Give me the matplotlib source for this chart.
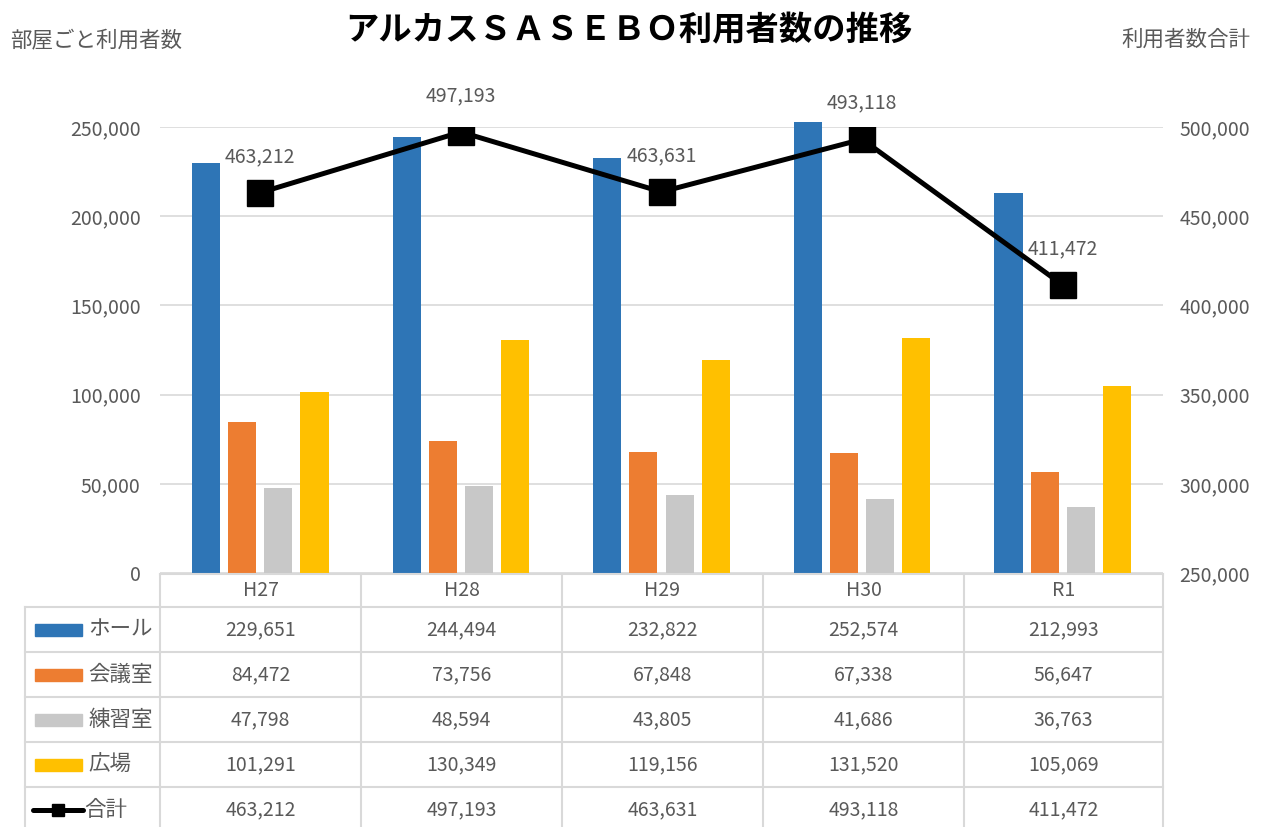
import matplotlib
matplotlib.use("Agg")
import matplotlib.pyplot as plt
from matplotlib.patches import Rectangle

plt.rcParams['font.family'] = ['Noto Sans CJK JP', 'DejaVu Sans']

categories = ["H27", "H28", "H29", "H30", "R1"]
series_names = ["ホール", "会議室", "練習室", "広場"]
hall = [229651, 244494, 232822, 252574, 212993]
meeting = [84472, 73756, 67848, 67338, 56647]
practice = [47798, 48594, 43805, 41686, 36763]
plaza = [101291, 130349, 119156, 131520, 105069]
total = [463212, 497193, 463631, 493118, 411472]
total_name = "合計"

title = "アルカスＳＡＳＥＢＯ利用者数の推移"
left_label = "部屋ごと利用者数"
right_label = "利用者数合計"

colors = ["#2E75B6", "#ED7D31", "#C8C8C8", "#FFC000"]
text_color = "#595959"
grid_color = "#D9D9D9"
NUM_FS = 14
JP_FS = 15.5

W, H = 1263, 827
fig = plt.figure(figsize=(W / 100, H / 100), dpi=100)

def px_rect(x0, y0, x1, y1):
    return [x0 / W, 1 - y1 / H, (x1 - x0) / W, (y1 - y0) / H]

ax = fig.add_axes(px_rect(160, 127, 1163, 573))
ax2 = ax.twinx()

series = [hall, meeting, practice, plaza]
offsets = [-0.27, -0.09, 0.09, 0.27]
width = 0.14
xs = list(range(len(categories)))
for vals, off, c in zip(series, offsets, colors):
    bars = ax.bar([x + off for x in xs], vals, width=width, color=c, zorder=3)
    for b in bars:
        b.set_clip_on(False)

ax.set_xlim(-0.5, len(categories) - 0.5)
ax.set_ylim(0, 250000)
ax.set_yticks(range(0, 250001, 50000))
ax.set_yticklabels([f"{v:,}" for v in range(0, 250001, 50000)])
ax.set_xticks([])
ax.grid(axis='y', color=grid_color, lw=1.2, zorder=0)
ax.set_axisbelow(True)
for sp in ax.spines.values():
    sp.set_visible(False)
for sp in ax2.spines.values():
    sp.set_visible(False)
ax.tick_params(axis='y', length=0, pad=14, labelsize=NUM_FS, labelcolor=text_color)

ax2.plot(xs, total, color='black', lw=3.6, marker='s', markersize=19, zorder=5)
ax2.set_ylim(250000, 500000)
ax2.set_yticks(range(250000, 500001, 50000))
ax2.set_yticklabels([f"{v:,}" for v in range(250000, 500001, 50000)])
ax2.tick_params(axis='y', length=0, pad=12, labelsize=NUM_FS, labelcolor=text_color)
for x, v in zip(xs, total):
    ax2.annotate(f"{v:,}", (x, v), xytext=(0, 26), textcoords='offset points',
                 ha='center', va='center', fontsize=NUM_FS, color=text_color,
                 annotation_clip=False)

# Title and axis titles
fig.text(629 / W, 1 - 31 / H, title, ha='center', va='center', fontsize=24,
         fontweight='bold', color='black')
fig.text(10 / W, 1 - 40 / H, left_label, ha='left', va='center', fontsize=JP_FS,
         color=text_color)
fig.text(1250 / W, 1 - 40 / H, right_label, ha='right', va='center', fontsize=JP_FS,
         color=text_color)

# Data table
tx = fig.add_axes(px_rect(0, 573, 1263, 827))
tx.set_xlim(0, W)
tx.set_ylim(254, 0)
tx.axis('off')
col_edges = [160, 361, 562, 763, 964, 1163]
row_edges = [0, 34, 79, 124, 169, 214, 259]
lc = "#D9D9D9"
tx.plot([160, 1163], [0.5, 0.5], color=lc, lw=1.5, clip_on=False)
for yv in row_edges[1:-1]:
    tx.plot([25, 1163], [yv, yv], color=lc, lw=1.5)
for xv in col_edges:
    tx.plot([xv, xv], [0, 260], color=lc, lw=1.5)
tx.plot([25, 25], [34, 260], color=lc, lw=1.5)

for i, cat in enumerate(categories):
    cx = (col_edges[i] + col_edges[i + 1]) / 2
    tx.text(cx, 17, cat, ha='center', va='center', fontsize=NUM_FS, color=text_color)

all_rows = series + [total]
all_names = series_names + [total_name]
for r, (vals, name) in enumerate(zip(all_rows, all_names)):
    cy = (row_edges[r + 1] + row_edges[r + 2]) / 2
    for i, v in enumerate(vals):
        cx = (col_edges[i] + col_edges[i + 1]) / 2
        tx.text(cx, cy, f"{v:,}", ha='center', va='center', fontsize=NUM_FS,
                color=text_color)
    if r < 4:
        tx.add_patch(Rectangle((35, cy - 6), 47, 12, color=colors[r]))
        tx.text(88, cy, name, ha='left', va='center', fontsize=JP_FS, color=text_color)
    else:
        tx.plot([33, 83], [cy, cy], color='black', lw=3.6, solid_capstyle='round')
        tx.plot([58], [cy], marker='s', color='black', markersize=9)
        tx.text(84, cy, name, ha='left', va='center', fontsize=JP_FS, color=text_color)

fig.savefig("out.png", dpi=100)
